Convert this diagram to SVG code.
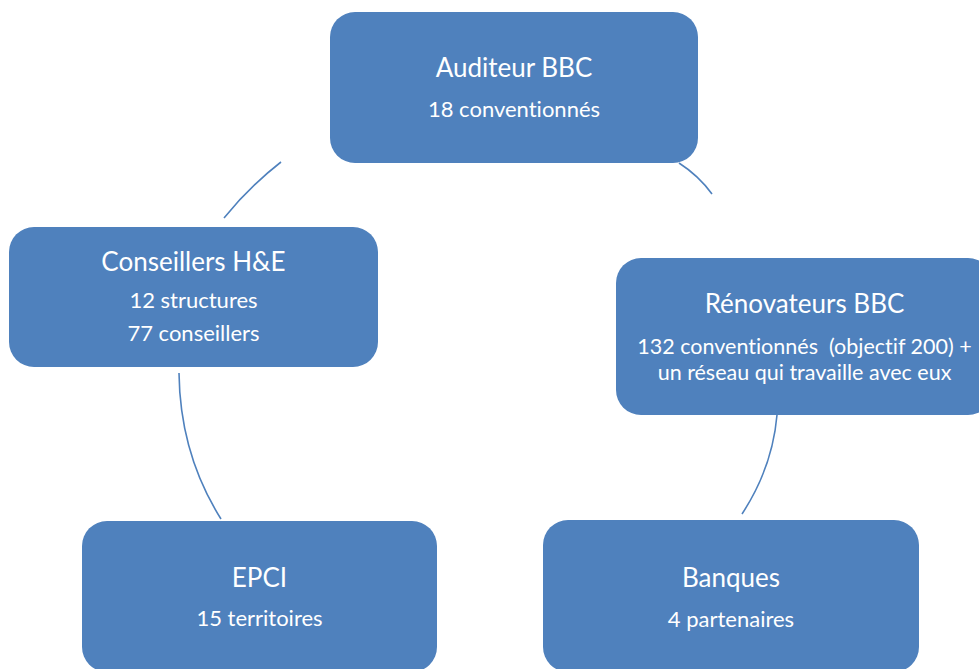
<svg xmlns="http://www.w3.org/2000/svg" width="979" height="669" viewBox="0 0 979 669">
<style>
.box{fill:#4F81BD;stroke:none}
.t{fill:#FFFFFF;font-family:"Lato","Liberation Sans",sans-serif;text-anchor:middle;white-space:pre;font-variant-ligatures:none;font-feature-settings:"liga" 0}
.h{font-size:26px}
.s{font-size:22px}
.s2{font-size:21.5px}
.c{fill:none;stroke:#4F81BD;stroke-width:1.6}
</style>
<rect width="979" height="669" fill="#FFFFFF"/>
<g id="connectors">
<path class="c" d="M281,162 Q249.5,186.5 224,218"/>
<path class="c" d="M679,163 Q698.5,175.5 712,194"/>
<path class="c" d="M179,373 Q180,454 221,519"/>
<path class="c" d="M777,415 Q772.5,467.5 742,514"/>
</g>
<g id="auditeur">
<rect class="box" x="330" y="12" width="368" height="151" rx="25"/>
<text class="t h" x="514" y="77">Auditeur BBC</text>
<text class="t s" x="514" y="117">18 conventionnés</text>
</g>
<g id="conseillers">
<rect class="box" x="9" y="227" width="369" height="140" rx="25"/>
<text class="t h" x="193.5" y="271">Conseillers H&amp;E</text>
<text class="t s" x="193.5" y="308">12 structures</text>
<text class="t s" x="193.5" y="341">77 conseillers</text>
</g>
<g id="renovateurs">
<rect class="box" x="616" y="258" width="377" height="157" rx="25"/>
<text class="t h" x="804.5" y="313">Rénovateurs BBC</text>
<text class="t s2" x="804.5" y="354">132 conventionnés  (objectif 200) +</text>
<text class="t s2" x="804.5" y="380">un réseau qui travaille avec eux</text>
</g>
<g id="epci">
<rect class="box" x="82" y="521" width="355" height="151" rx="25"/>
<text class="t h" x="259.5" y="587">EPCI</text>
<text class="t s" x="259.5" y="626">15 territoires</text>
</g>
<g id="banques">
<rect class="box" x="543" y="520" width="376" height="152" rx="25"/>
<text class="t h" x="731" y="587">Banques</text>
<text class="t s" x="731" y="627">4 partenaires</text>
</g>
</svg>
